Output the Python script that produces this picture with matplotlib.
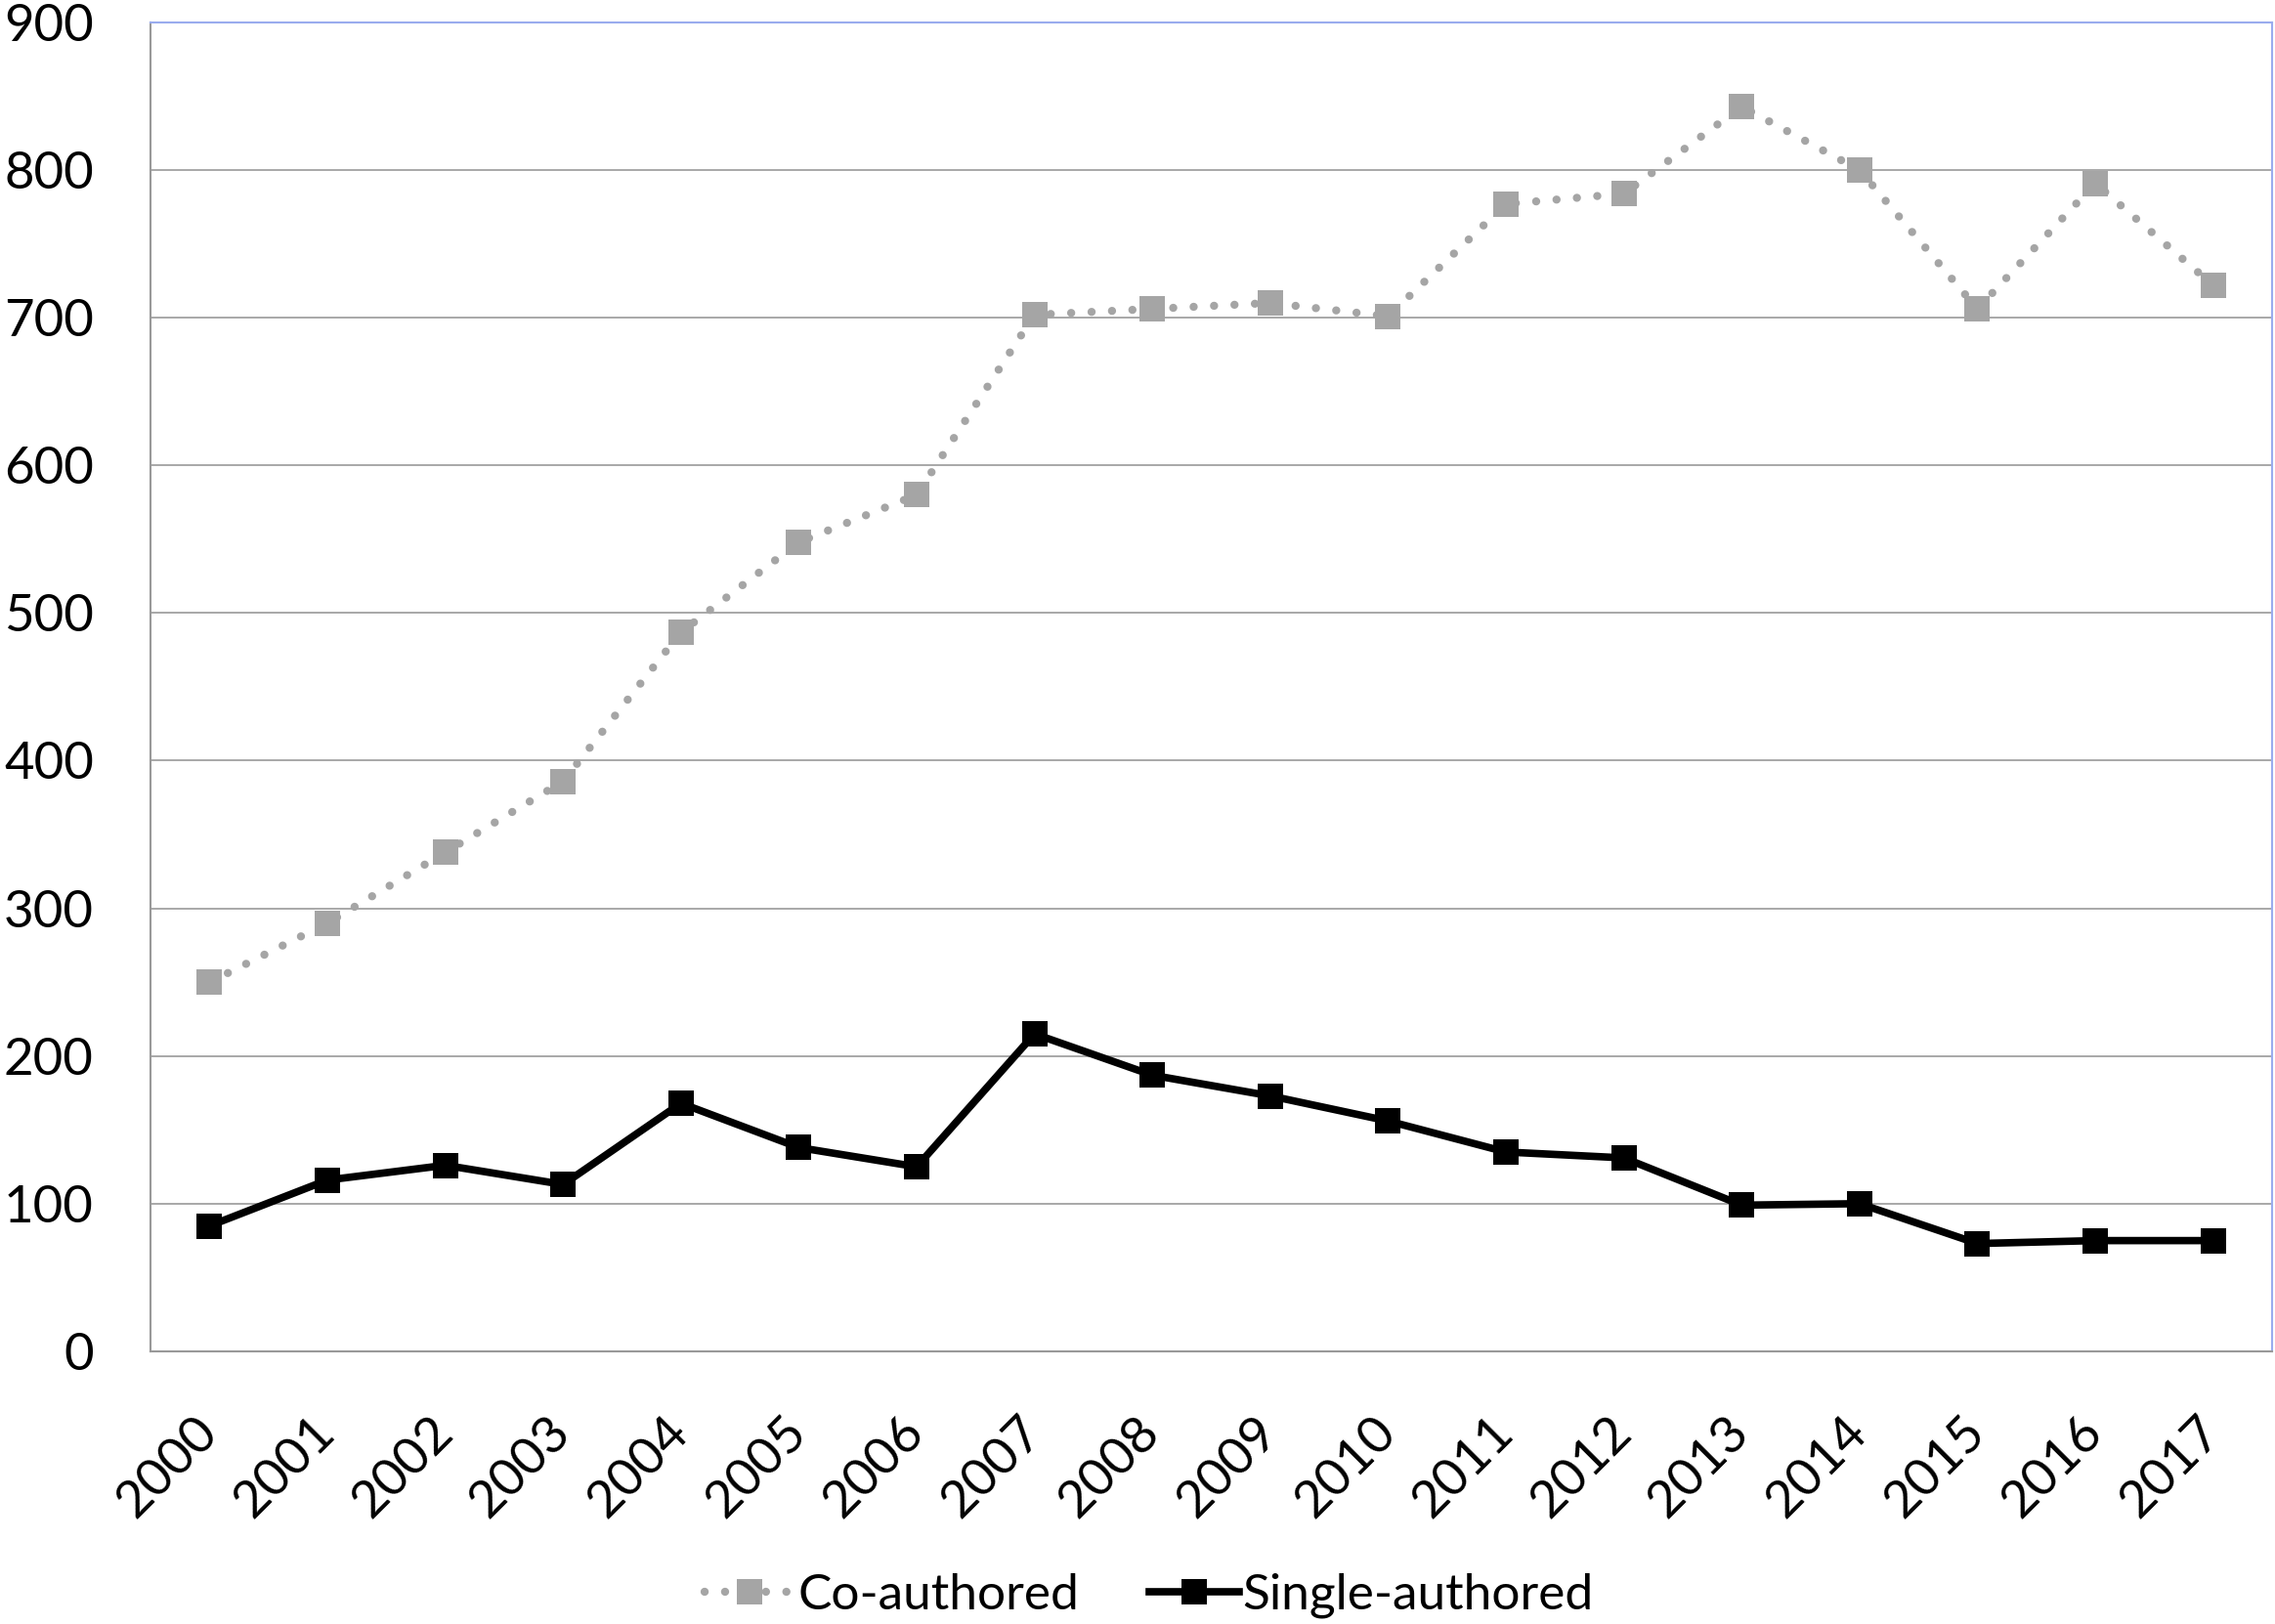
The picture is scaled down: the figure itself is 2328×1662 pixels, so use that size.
import matplotlib
matplotlib.use("Agg")
import matplotlib.pyplot as plt
import numpy as np

years = [str(y) for y in range(2000, 2018)]
co_authored = [250, 290, 338, 386, 487, 548, 580, 702, 706, 710, 701, 777, 784, 843, 800, 706, 791, 722]
single_authored = [85, 116, 126, 113, 168, 138, 125, 215, 187, 173, 156, 135, 131, 99, 100, 73, 75, 75]
yticks = [0, 100, 200, 300, 400, 500, 600, 700, 800, 900]

plt.rcParams['font.family'] = ['Lato', 'DejaVu Sans']

fig = plt.figure(figsize=(23.28, 16.62), dpi=100)
ax = fig.add_axes([0.0662, 0.1679, 0.9325, 0.8183])

x = np.arange(len(years))
ax.plot(x, co_authored, color='#a5a5a5', linestyle=(0, (0.01, 2.5)), linewidth=6,
        dash_capstyle='round', marker='s', markersize=19, markeredgewidth=0,
        label='Co-authored', zorder=3)
ax.plot(x, single_authored, color='black', linestyle='-', linewidth=5.5,
        marker='s', markersize=19, markeredgewidth=0, label='Single-authored', zorder=4)

ax.set_xlim(-0.5, len(years) - 0.5)
ax.set_ylim(0, 900)
ax.set_yticks(yticks)
ax.set_yticklabels([str(v) for v in yticks])
ax.set_xticks(x)
ax.set_xticklabels(years, rotation=45, ha='right', va='center', rotation_mode='anchor')
ax.tick_params(axis='both', length=0, labelsize=38)
ax.tick_params(axis='y', pad=42)
ax.tick_params(axis='x', pad=54)

ax.yaxis.grid(True, color='#999999', linewidth=1.2)
ax.set_axisbelow(True)
for s in ['left', 'bottom']:
    ax.spines[s].set_color('#999999')
    ax.spines[s].set_linewidth(1.5)
for s in ['top', 'right']:
    ax.spines[s].set_color('#9aacee')
    ax.spines[s].set_linewidth(1.5)

leg = fig.legend(loc='center', bbox_to_anchor=(0.505, 0.0175), ncol=2, frameon=False,
                 fontsize=37, handlelength=1.8, handletextpad=0.05, columnspacing=1.4,
                 borderpad=0, borderaxespad=0)

fig.savefig('out.png', dpi=100)
